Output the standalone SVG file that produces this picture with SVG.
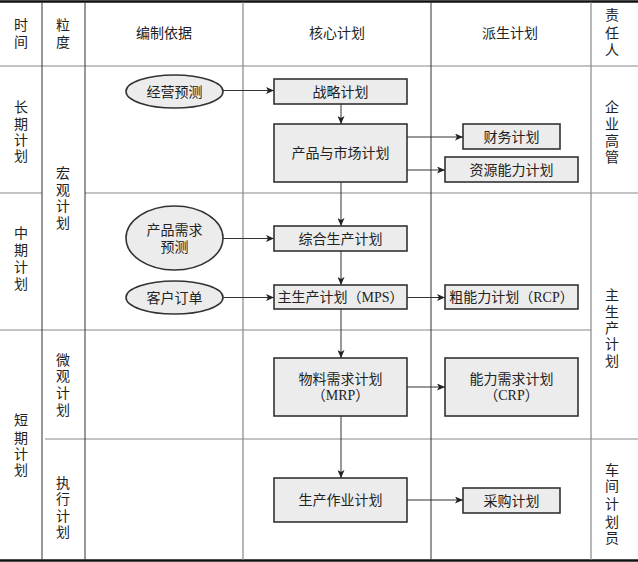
<svg xmlns="http://www.w3.org/2000/svg" width="638" height="562" viewBox="0 0 638 562">
<style>
text{font-family:"Liberation Serif","Noto Sans CJK SC",serif;font-size:14px;fill:#222;text-anchor:middle}
.g{stroke:#333;stroke-width:1;fill:none}
.gl{stroke:#888;stroke-width:1.2;fill:none}
.b{stroke:#111;stroke-width:2.5;fill:none}
.n{fill:#ececec;stroke:#333;stroke-width:1.6}
.c{stroke:#333;stroke-width:1;fill:none;marker-end:url(#ah)}
</style>
<defs>
<marker id="ah" markerUnits="userSpaceOnUse" markerWidth="9" markerHeight="7" refX="8" refY="3.5" orient="auto">
<path d="M0,0 L8,3.5 L0,7 L2,3.5 z" fill="#222"/>
</marker>
</defs>
<rect x="0" y="0" width="638" height="562" fill="#fff"/>
<g id="grid">
<line class="b" x1="0" y1="1.5" x2="638" y2="1.5"/>
<line class="b" x1="0" y1="560.5" x2="638" y2="560.5"/>
<line class="gl" x1="0" y1="66" x2="638" y2="66"/>
<line class="gl" x1="0" y1="193" x2="42" y2="193"/>
<line class="gl" x1="85" y1="193" x2="638" y2="193"/>
<line class="gl" x1="0" y1="330" x2="591" y2="330"/>
<line class="gl" x1="45" y1="439" x2="638" y2="439"/>
<line class="g" x1="42" y1="2" x2="42" y2="560"/>
<line class="g" x1="85" y1="2" x2="85" y2="560"/>
<line class="gl" x1="243" y1="2" x2="243" y2="560"/>
<line class="g" x1="431" y1="2" x2="431" y2="560"/>
<line class="gl" x1="591" y1="2" x2="591" y2="560"/>
</g>
<g id="labels">
<text x="21" y="30">时</text><text x="21" y="47">间</text>
<text x="63" y="30">粒</text><text x="63" y="47">度</text>
<text x="164" y="38">编制依据</text>
<text x="337" y="38">核心计划</text>
<text x="510" y="38">派生计划</text>
<text x="612" y="20">责</text><text x="612" y="38">任</text><text x="612" y="55">人</text>
<text x="21" y="112">长</text><text x="21" y="129">期</text><text x="21" y="145">计</text><text x="21" y="161">划</text>
<text x="63" y="178">宏</text><text x="63" y="195">观</text><text x="63" y="211">计</text><text x="63" y="228">划</text>
<text x="21" y="238">中</text><text x="21" y="255">期</text><text x="21" y="272">计</text><text x="21" y="289">划</text>
<text x="63" y="365">微</text><text x="63" y="381">观</text><text x="63" y="398">计</text><text x="63" y="415">划</text>
<text x="21" y="425">短</text><text x="21" y="443">期</text><text x="21" y="459">计</text><text x="21" y="475">划</text>
<text x="63" y="488">执</text><text x="63" y="504">行</text><text x="63" y="521">计</text><text x="63" y="537">划</text>
<text x="612" y="112">企</text><text x="612" y="129">业</text><text x="612" y="146">高</text><text x="612" y="162">管</text>
<text x="612" y="300">主</text><text x="612" y="317">生</text><text x="612" y="333">产</text><text x="612" y="349">计</text><text x="612" y="366">划</text>
<text x="612" y="475">车</text><text x="612" y="491">间</text><text x="612" y="509">计</text><text x="612" y="527">划</text><text x="612" y="543">员</text>
</g>
<g id="connectors">
<line class="c" x1="223" y1="90.5" x2="274" y2="90.5"/>
<line class="c" x1="341" y1="104" x2="341" y2="124"/>
<line class="c" x1="407" y1="137" x2="463" y2="137"/>
<line class="c" x1="407" y1="170" x2="445" y2="170"/>
<line class="c" x1="341" y1="182" x2="341" y2="226"/>
<line class="c" x1="223" y1="238.5" x2="274" y2="238.5"/>
<line class="c" x1="341" y1="251" x2="341" y2="285"/>
<line class="c" x1="223" y1="297.5" x2="274" y2="297.5"/>
<line class="c" x1="407" y1="297.5" x2="445" y2="297.5"/>
<line class="c" x1="341" y1="309" x2="341" y2="358"/>
<line class="c" x1="407" y1="387" x2="445" y2="387"/>
<line class="c" x1="341" y1="416" x2="341" y2="478"/>
<line class="c" x1="407" y1="500" x2="463" y2="500"/>
</g>
<g id="n-jyyc"><ellipse class="n" cx="174.5" cy="91.5" rx="48.5" ry="16.5"/><text x="174.5" y="96.5">经营预测</text></g>
<g id="n-zljh"><rect class="n" x="274" y="79" width="133" height="25"/><text x="340.5" y="96.5">战略计划</text></g>
<g id="n-cpsc"><rect class="n" x="274" y="124" width="133" height="58"/><text x="340.5" y="158">产品与市场计划</text></g>
<g id="n-cwjh"><rect class="n" x="463" y="124" width="97" height="25"/><text x="511.5" y="141.5">财务计划</text></g>
<g id="n-zynl"><rect class="n" x="445" y="157" width="133" height="25"/><text x="511.5" y="174.5">资源能力计划</text></g>
<g id="n-cpxq"><ellipse class="n" cx="174.5" cy="238" rx="48.5" ry="32"/><text x="174.5" y="235">产品需求</text><text x="174.5" y="252">预测</text></g>
<g id="n-zhsc"><rect class="n" x="274" y="226" width="133" height="25"/><text x="340.5" y="243.5">综合生产计划</text></g>
<g id="n-khdd"><ellipse class="n" cx="174.5" cy="297.5" rx="48.5" ry="16.5"/><text x="174.5" y="302.5">客户订单</text></g>
<g id="n-mps"><rect class="n" x="274" y="285" width="133" height="24"/><text x="340.5" y="302">主生产计划（MPS）</text></g>
<g id="n-rcp"><rect class="n" x="445" y="285" width="133" height="24"/><text x="511.5" y="302">粗能力计划（RCP）</text></g>
<g id="n-mrp"><rect class="n" x="274" y="358" width="133" height="58"/><text x="340.5" y="384">物料需求计划</text><text x="340.5" y="400">（MRP）</text></g>
<g id="n-crp"><rect class="n" x="445" y="358" width="133" height="58"/><text x="511.5" y="384">能力需求计划</text><text x="511.5" y="400">（CRP）</text></g>
<g id="n-sczy"><rect class="n" x="274" y="478" width="133" height="44"/><text x="340.5" y="505">生产作业计划</text></g>
<g id="n-cgjh"><rect class="n" x="463" y="488" width="97" height="25"/><text x="511.5" y="505.5">采购计划</text></g>
</svg>
